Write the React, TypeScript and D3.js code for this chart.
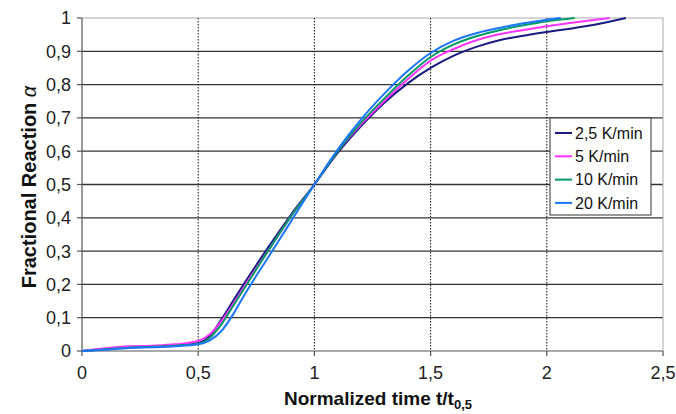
import React from "react";
import * as d3 from "d3";

const xTicks = [0, 0.5, 1, 1.5, 2, 2.5];
const yTicks = [0, 0.1, 0.2, 0.3, 0.4, 0.5, 0.6, 0.7, 0.8, 0.9, 1];

const seriesNames = ["2,5 K/min", "5 K/min", "10 K/min", "20 K/min"];
const seriesColors = ["#1a1a80", "#ff33ff", "#009966", "#1a75ff"];

const tNavy = [0, 0.1, 0.2, 0.3, 0.4, 0.5, 0.55, 0.6, 0.65, 0.7, 0.8, 0.9, 1.0, 1.1, 1.2, 1.3, 1.4, 1.5, 1.6, 1.7, 1.8, 1.9, 2.0, 2.1, 2.2, 2.34];
const aNavy = [0, 0.006, 0.012, 0.014, 0.017, 0.024, 0.045, 0.095, 0.15, 0.205, 0.31, 0.41, 0.5, 0.595, 0.675, 0.745, 0.803, 0.85, 0.887, 0.914, 0.934, 0.947, 0.958, 0.968, 0.979, 1.0];

const tPink = [0, 0.1, 0.2, 0.3, 0.4, 0.5, 0.55, 0.6, 0.65, 0.7, 0.8, 0.9, 1.0, 1.1, 1.2, 1.3, 1.4, 1.5, 1.6, 1.7, 1.8, 1.9, 2.0, 2.1, 2.2, 2.27];
const aPink = [0, 0.008, 0.014, 0.016, 0.02, 0.03, 0.05, 0.09, 0.14, 0.195, 0.3, 0.405, 0.5, 0.6, 0.68, 0.75, 0.815, 0.872, 0.907, 0.934, 0.952, 0.964, 0.975, 0.985, 0.994, 1.0];

const tGreen = [0, 0.1, 0.2, 0.3, 0.4, 0.5, 0.55, 0.6, 0.65, 0.7, 0.8, 0.9, 1.0, 1.1, 1.2, 1.3, 1.4, 1.5, 1.6, 1.7, 1.8, 1.9, 2.0, 2.12];
const aGreen = [0, 0.005, 0.01, 0.013, 0.016, 0.022, 0.04, 0.08, 0.135, 0.19, 0.3, 0.405, 0.5, 0.6, 0.685, 0.758, 0.825, 0.883, 0.921, 0.946, 0.964, 0.978, 0.99, 1.0];

const tBlue = [0, 0.1, 0.2, 0.3, 0.4, 0.5, 0.55, 0.6, 0.65, 0.7, 0.8, 0.9, 1.0, 1.1, 1.2, 1.3, 1.4, 1.5, 1.6, 1.7, 1.8, 1.9, 2.0, 2.06];
const aBlue = [0, 0.004, 0.009, 0.011, 0.014, 0.02, 0.032, 0.06, 0.11, 0.17, 0.28, 0.39, 0.5, 0.605, 0.695, 0.772, 0.84, 0.895, 0.932, 0.955, 0.971, 0.984, 0.995, 1.0];

const seriesT = [tNavy, tPink, tGreen, tBlue];
const seriesA = [aNavy, aPink, aGreen, aBlue];

const W = 676, H = 414;
const left = 82, right = 663, top = 18, bottom = 351;

export default function App() {
  const x = d3.scaleLinear().domain([0, 2.5]).range([left, right]);
  const y = d3.scaleLinear().domain([0, 1]).range([bottom, top]);
  const line = d3
    .line<[number, number]>()
    .x((d) => x(d[0]))
    .y((d) => y(d[1]))
    .curve(d3.curveMonotoneX);
  const fmt = (v: number) => String(v).replace(".", ",");
  const font = "Arial, 'Liberation Sans', sans-serif";
  const drawOrder = [0, 1, 2, 3];

  return (
    <svg width={W} height={H} style={{ position: "absolute", left: 0, top: 0, background: "#fff" }} fontFamily={font}>
      <rect x={0} y={0} width={W} height={H} fill="#fff" />
      {yTicks.filter((v) => v > 0 && v < 1).map((v) => (
        <line key={"h" + v} x1={left} x2={right} y1={y(v)} y2={y(v)} stroke="#333" strokeWidth={1.3} />
      ))}
      <line x1={left} x2={right} y1={top} y2={top} stroke="#aaa" strokeWidth={1} />
      <line x1={right} x2={right} y1={top} y2={bottom} stroke="#aaa" strokeWidth={1} />
      {xTicks.filter((v) => v > 0 && v < 2.5).map((v) => (
        <line key={"v" + v} x1={x(v)} x2={x(v)} y1={top} y2={bottom} stroke="#111" strokeWidth={1} strokeDasharray="1.5,1.5" />
      ))}
      <line x1={left} x2={left} y1={top} y2={bottom} stroke="#555" strokeWidth={1.2} />
      <line x1={left} x2={right} y1={bottom} y2={bottom} stroke="#555" strokeWidth={1.2} />
      {yTicks.map((v) => (
        <g key={"yt" + v}>
          <line x1={left - 5} x2={left} y1={y(v)} y2={y(v)} stroke="#555" strokeWidth={1.2} />
          <text x={left - 11} y={y(v)} dy="0.36em" textAnchor="end" fontSize={18} fill="#222">
            {fmt(v)}
          </text>
        </g>
      ))}
      {xTicks.map((v) => (
        <g key={"xt" + v}>
          <line x1={x(v)} x2={x(v)} y1={bottom} y2={bottom + 5} stroke="#555" strokeWidth={1.2} />
          <text x={x(v)} y={bottom + 28} textAnchor="middle" fontSize={18} fill="#222">
            {fmt(v)}
          </text>
        </g>
      ))}
      {drawOrder.map((i) => (
        <path
          key={"s" + i}
          d={line(seriesT[i].map((t, j) => [t, seriesA[i][j]] as [number, number])) || ""}
          fill="none"
          stroke={seriesColors[i]}
          strokeWidth={2}
        />
      ))}
      <rect x={550} y={118} width={101} height={97} fill="#fff" stroke="#333" strokeWidth={1} />
      {seriesNames.map((n, i) => (
        <g key={"lg" + i}>
          <line x1={555} x2={572} y1={133 + i * 23.3} y2={133 + i * 23.3} stroke={seriesColors[i]} strokeWidth={2} />
          <text x={575} y={133 + i * 23.3} dy="0.36em" fontSize={16} fill="#111">
            {n}
          </text>
        </g>
      ))}
      <text
        transform={`translate(36,187) rotate(-90)`}
        textAnchor="middle"
        fontSize={20}
        fontWeight="bold"
        fill="#111"
      >
        Fractional Reaction <tspan fontWeight="normal" fontStyle="italic">α</tspan>
      </text>
      <text x={378} y={405} textAnchor="middle" fontSize={19} fontWeight="bold" fill="#111">
        Normalized time t/t<tspan fontSize={13} dy={4}>0,5</tspan>
      </text>
    </svg>
  );
}
